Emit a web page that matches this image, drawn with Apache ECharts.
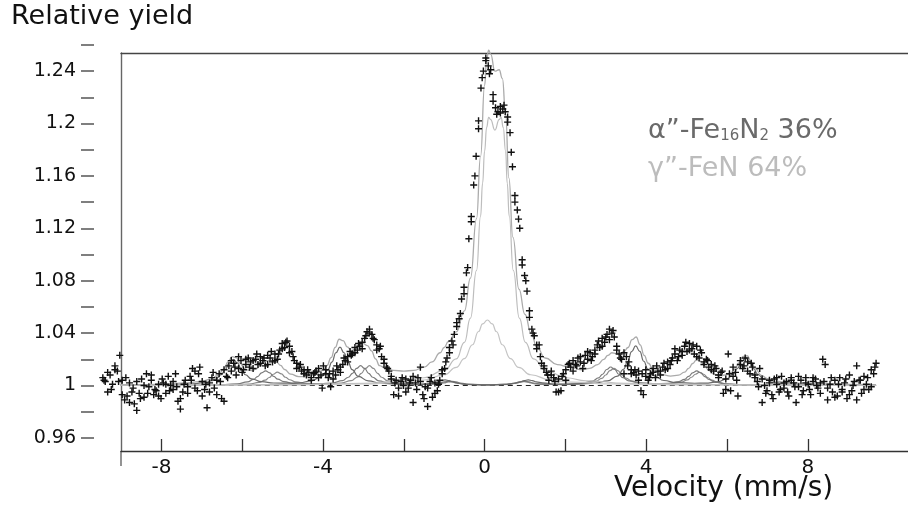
<!DOCTYPE html>
<html><head><meta charset="utf-8">
<script src="https://cdn.jsdelivr.net/npm/echarts@6/dist/echarts.min.js"></script>
<style>html,body{margin:0;padding:0;background:#fff}#c{width:908px;height:517px}</style>
</head><body><div id="c"></div><script>
// ---- data ----
// spectrum channels, set A
const velStartA = -9.45;   // mm/s
const velStepA = 0.06;
const relYieldA = [
1.006,1.003,0.995,1.008,1.001,1.012,1.011,1.023,1.004,0.989,
0.992,1.002,0.995,0.986,0.981,0.994,1.005,0.991,1.009,0.999,
1.004,0.993,0.996,1.001,0.990,1.002,0.994,1.007,1.000,0.997,
1.009,0.988,0.982,0.995,1.004,0.999,1.007,1.013,1.011,0.996,
1.014,1.003,0.997,0.983,1.002,1.006,0.998,1.004,1.009,0.990,
0.988,1.007,1.015,1.011,1.017,1.008,1.013,1.019,1.012,1.016,
1.021,1.018,1.013,1.020,1.016,1.022,1.019,1.015,1.023,1.021,
1.018,1.024,1.020,1.027,1.032,1.029,1.034,1.030,1.026,1.019,
1.017,1.014,1.011,1.012,1.008,1.010,1.006,1.009,1.011,1.013,
1.008,1.015,1.009,1.006,0.999,1.011,1.008,1.012,1.014,1.016,
1.019,1.022,1.026,1.024,1.029,1.027,1.030,1.033,1.036,1.041,
1.043,1.039,1.035,1.031,1.028,1.022,1.017,1.014,1.011,1.007,
0.993,1.004,0.992,1.003,1.000,1.005,0.998,1.004,0.987,1.002,
1.006,1.014,0.993,0.999,0.984,1.003,0.991,1.002,0.996,1.004,
1.009,1.013,1.021,1.025,1.034,1.039,1.045,1.051,1.066,1.070,
1.086,1.112,1.129,1.153,1.175,1.196,1.227,1.240,1.248,1.244,
1.241,1.222,1.212,1.209,1.213,1.211,1.209,1.205,1.193,1.167,
1.145,1.134,1.120,1.096,1.084,1.072,1.057,1.043,1.038,1.028,
1.031,1.017,1.013,1.010,1.004,1.008,1.006,0.995,1.005,0.996,
1.009,1.012,1.016,1.014,1.019,1.016,1.021,1.018,1.013,1.023,
1.020,1.025,1.022,1.027,1.031,1.029,1.036,1.033,1.039,1.043,
1.040,1.037,1.030,1.024,1.020,1.009,1.022,1.018,1.012,1.010,
1.008,1.011,0.996,0.993,1.007,1.004,1.009,1.013,1.006,1.011,
1.008,1.014,1.012,1.018,1.016,1.021,1.024,1.019,1.027,1.023,
1.030,1.026,1.032,1.028,1.024,1.030,1.021,1.025,1.018,1.020,
1.014,1.016,1.011,1.013,1.008,1.010,0.994,1.005,1.024,0.996,
1.007,1.010,0.992,1.016,1.013,1.021,1.018,1.009,1.014,1.006,
1.003,1.013,0.987,1.000,0.996,1.004,0.993,1.005,1.001,0.995,
1.007,0.998,1.003,0.992,1.006,1.002,0.987,0.999,1.004,0.996,
1.006,1.001,0.993,1.003,1.005,0.998,1.002,1.020,1.016,0.989,
1.001,0.995,1.004,0.992,1.006,0.997,1.002,0.990,1.008,0.996,
1.003,1.015,1.004,0.994,1.007,1.001,0.997,1.012,1.009,1.017
];
// spectrum channels, set B
const velStartB = -9.42;
const velStepB = 0.09;
const relYieldB = [
1.004,1.010,0.997,1.015,1.003,0.993,1.006,0.987,0.998,1.003,
0.990,1.000,0.994,1.008,0.997,0.992,1.005,1.001,0.996,1.003,
0.999,0.990,1.001,0.994,1.004,0.998,1.009,0.992,1.001,0.995,
1.010,0.993,1.003,1.012,1.006,1.019,1.014,1.022,1.010,1.020,
1.014,1.019,1.024,1.017,1.021,1.016,1.026,1.019,1.024,1.028,
1.033,1.025,1.022,1.013,1.016,1.009,1.012,1.004,1.010,1.006,
0.998,1.012,1.009,1.005,1.015,1.010,1.021,1.018,1.023,1.025,
1.032,1.028,1.038,1.040,1.036,1.027,1.030,1.020,1.013,1.005,
1.002,0.998,1.006,0.995,1.002,1.007,0.997,1.003,0.990,0.998,
1.006,0.994,1.001,1.012,1.018,1.029,1.031,1.048,1.055,1.075,
1.090,1.125,1.160,1.202,1.235,1.250,1.238,1.217,1.207,1.208,
1.214,1.201,1.178,1.140,1.127,1.092,1.080,1.052,1.040,1.031,
1.022,1.015,1.008,1.011,1.003,0.995,1.007,1.004,1.017,1.011,
1.015,1.022,1.017,1.026,1.019,1.024,1.034,1.030,1.037,1.035,
1.042,1.027,1.021,1.025,1.015,1.009,1.012,1.004,1.009,1.012,
1.006,1.010,1.015,1.011,1.017,1.013,1.019,1.028,1.022,1.026,
1.033,1.027,1.031,1.022,1.027,1.016,1.019,1.012,1.015,1.006,
1.011,0.997,1.009,1.014,1.004,1.019,1.015,1.011,1.017,1.008,
0.999,1.005,0.994,1.002,0.990,1.006,0.997,1.002,0.995,1.004,
0.999,1.007,0.993,1.002,0.997,1.006,1.000,0.994,1.003,0.998,
1.006,0.991,1.001,0.995,1.005,0.993,1.000,0.989,1.004,0.997,
1.006,0.999,1.014
];
const totalFit = [[-9.45,1.0004],[-8.5,1.0006],[-7.8,1.0012],[-7.3,1.0022],[-7.0,1.0032],[-6.8,1.0046],[-6.6,1.0077],[-6.45,1.0127],[-6.35,1.018],[-6.25,1.0221],[-6.15,1.0213],[-6.05,1.0169],[-5.95,1.0131],[-5.85,1.0118],[-5.75,1.0114],[-5.65,1.0127],[-5.55,1.0154],[-5.45,1.0182],[-5.35,1.0191],[-5.25,1.0186],[-5.15,1.0179],[-5.05,1.0153],[-4.95,1.0122],[-4.8,1.0087],[-4.6,1.0068],[-4.4,1.0068],[-4.2,1.0082],[-4.0,1.0117],[-3.9,1.0153],[-3.8,1.0213],[-3.7,1.029],[-3.6,1.0353],[-3.5,1.0342],[-3.4,1.0295],[-3.3,1.0267],[-3.2,1.028],[-3.1,1.0308],[-3.0,1.0319],[-2.9,1.0304],[-2.8,1.0264],[-2.7,1.0203],[-2.6,1.0151],[-2.45,1.013],[-2.25,1.0115],[-2.0,1.011],[-1.75,1.0115],[-1.5,1.014],[-1.3,1.018],[-1.1,1.025],[-1.0,1.029],[-0.9,1.0334],[-0.7,1.0409],[-0.5,1.0569],[-0.35,1.082],[-0.2,1.1274],[-0.1,1.1749],[0.0,1.2292],[0.05,1.2484],[0.1,1.2559],[0.15,1.253],[0.255,1.2399],[0.36,1.241],[0.44,1.2343],[0.52,1.2073],[0.6,1.1585],[0.7,1.1132],[0.85,1.0736],[1.0,1.0542],[1.15,1.0398],[1.3,1.0287],[1.5,1.021],[1.8,1.016],[2.1,1.014],[2.4,1.012],[2.6,1.013],[2.8,1.016],[2.95,1.020],[3.05,1.023],[3.15,1.025],[3.25,1.0245],[3.35,1.024],[3.45,1.026],[3.55,1.029],[3.65,1.035],[3.75,1.037],[3.85,1.031],[3.95,1.023],[4.05,1.017],[4.2,1.011],[4.4,1.0083],[4.6,1.0072],[4.8,1.0079],[4.95,1.0102],[5.05,1.0131],[5.15,1.0168],[5.25,1.0198],[5.35,1.0185],[5.45,1.0148],[5.55,1.0114],[5.7,1.0084],[5.85,1.0075],[6.0,1.0083],[6.1,1.0099],[6.2,1.0129],[6.3,1.0175],[6.4,1.0223],[6.5,1.0227],[6.6,1.0181],[6.7,1.0128],[6.85,1.0078],[7.0,1.0052],[7.2,1.0034],[7.5,1.0023],[8.0,1.0014],[9.0,1.0009],[9.69,1.0007]];
const gammaFeN = [[-9.45,1.0002],[-5,1.0006],[-3,1.0017],[-2,1.0036],[-1.5,1.0059],[-1.0,1.0116],[-0.7,1.0203],[-0.5,1.0329],[-0.35,1.0514],[-0.2,1.0878],[-0.1,1.1291],[-0.05,1.1544],[0.0,1.1789],[0.05,1.197],[0.1,1.2047],[0.15,1.203],[0.255,1.195],[0.36,1.203],[0.41,1.2047],[0.46,1.197],[0.52,1.1789],[0.56,1.1544],[0.61,1.1291],[0.71,1.0878],[0.86,1.0514],[1.01,1.0329],[1.21,1.0203],[1.51,1.0116],[2.01,1.0059],[2.51,1.0036],[3.5,1.0017],[5.5,1.0007],[9.69,1.0002]];
const singlet = [[-9.45,1.0001],[-5,1.0004],[-3,1.0012],[-2,1.0025],[-1.5,1.0042],[-1.0,1.0082],[-0.7,1.0138],[-0.5,1.0205],[-0.3,1.0311],[-0.15,1.0412],[-0.05,1.047],[0.07,1.05],[0.19,1.047],[0.29,1.0412],[0.44,1.0311],[0.64,1.0205],[0.84,1.0138],[1.14,1.0082],[1.64,1.0042],[2.14,1.0025],[3.14,1.0012],[5.14,1.0004],[9.69,1.0001]];
const sextet1 = [[-9.45,1],[-7.7,1.0005],[-7.22,1.0012],[-6.92,1.0023],[-6.67,1.0047],[-6.52,1.0082],[-6.42,1.0122],[-6.32,1.0172],[-6.22,1.020],[-6.12,1.0172],[-6.02,1.0122],[-5.92,1.0082],[-5.77,1.0051],[-5.52,1.0029],[-5.22,1.0019],[-4.8,1.0018],[-4.58,1.0021],[-4.28,1.0036],[-4.03,1.007],[-3.88,1.012],[-3.78,1.0178],[-3.68,1.025],[-3.58,1.0293],[-3.48,1.025],[-3.38,1.0178],[-3.28,1.0121],[-3.13,1.007],[-2.88,1.0035],[-2.58,1.0018],[-2.2,1.0011],[-1.7,1.0009],[-1.43,1.0013],[-1.28,1.0019],[-1.18,1.0027],[-1.08,1.0037],[-0.98,1.0043],[-0.88,1.0037],[-0.78,1.0027],[-0.63,1.0017],[-0.4,1.0008],[0.05,1.0005],[0.5,1.0008],[0.73,1.0017],[0.88,1.0027],[0.98,1.0037],[1.08,1.0043],[1.18,1.0037],[1.28,1.0027],[1.43,1.002],[1.78,1.001],[2.3,1.0011],[2.74,1.0018],[3.04,1.0035],[3.29,1.0072],[3.44,1.0124],[3.54,1.0183],[3.64,1.0259],[3.74,1.0302],[3.84,1.0261],[3.94,1.0185],[4.04,1.0126],[4.19,1.0075],[4.44,1.0038],[4.74,1.0022],[5.2,1.0017],[5.46,1.0018],[5.76,1.0027],[6.01,1.0053],[6.16,1.0089],[6.26,1.0131],[6.36,1.0183],[6.46,1.0212],[6.56,1.0183],[6.66,1.0128],[6.76,1.0086],[6.91,1.005],[7.16,1.0024],[7.46,1.0012],[7.96,1.0005],[9.69,1]];
const sextet2 = [[-9.45,1],[-7.0,1.0003],[-6.42,1.0007],[-6.12,1.0013],[-5.87,1.0027],[-5.72,1.0046],[-5.62,1.0068],[-5.52,1.0096],[-5.42,1.0111],[-5.32,1.0096],[-5.22,1.0069],[-5.12,1.0049],[-4.97,1.0029],[-4.72,1.0015],[-4.3,1.0011],[-4.07,1.0013],[-3.77,1.0019],[-3.52,1.0037],[-3.37,1.0063],[-3.27,1.0093],[-3.17,1.013],[-3.07,1.0151],[-2.97,1.013],[-2.87,1.0093],[-2.77,1.0063],[-2.62,1.0036],[-2.37,1.0018],[-2.07,1.001],[-1.6,1.0007],[-1.35,1.001],[-1.2,1.0014],[-1.1,1.002],[-1.0,1.0028],[-0.9,1.0031],[-0.8,1.0027],[-0.7,1.0019],[-0.5,1.0008],[0.05,1.0004],[0.6,1.0008],[0.8,1.0019],[0.9,1.0027],[1.0,1.0031],[1.1,1.0027],[1.2,1.0019],[1.4,1.0012],[1.9,1.0008],[2.42,1.0017],[2.67,1.0034],[2.82,1.0058],[2.92,1.0086],[3.02,1.0122],[3.12,1.0141],[3.22,1.0122],[3.32,1.0086],[3.42,1.006],[3.57,1.0035],[3.82,1.002],[4.2,1.0013],[4.55,1.0016],[4.8,1.0029],[4.95,1.0047],[5.05,1.0069],[5.15,1.0096],[5.25,1.0111],[5.35,1.0096],[5.45,1.0068],[5.55,1.0046],[5.7,1.0026],[5.95,1.0013],[6.25,1.0007],[6.85,1.0003],[9.69,1]];
const sextet3 = [[-9.45,1],[-6.7,1.0002],[-6.13,1.0006],[-5.83,1.0011],[-5.58,1.0024],[-5.43,1.0041],[-5.33,1.0061],[-5.23,1.0086],[-5.13,1.0102],[-5.03,1.0088],[-4.93,1.0063],[-4.83,1.0044],[-4.68,1.0027],[-4.43,1.0016],[-4.0,1.0012],[-3.85,1.0013],[-3.55,1.0019],[-3.3,1.0037],[-3.15,1.0063],[-3.05,1.0093],[-2.95,1.013],[-2.85,1.0151],[-2.75,1.013],[-2.65,1.0093],[-2.55,1.0063],[-2.4,1.0036],[-2.15,1.0018],[-1.85,1.0011],[-1.5,1.0008],[-1.25,1.001],[-1.1,1.0014],[-1.0,1.002],[-0.9,1.0027],[-0.8,1.0031],[-0.7,1.0027],[-0.6,1.0019],[-0.35,1.0008],[0.1,1.0005],[0.5,1.0008],[0.65,1.0013],[0.75,1.0019],[0.85,1.0026],[0.95,1.0031],[1.05,1.0027],[1.15,1.0019],[1.25,1.0013],[1.4,1.0008],[1.95,1.0007],[2.5,1.0016],[2.75,1.0032],[2.9,1.0054],[3.0,1.008],[3.1,1.0113],[3.2,1.0131],[3.3,1.0113],[3.4,1.008],[3.5,1.0056],[3.65,1.0033],[3.9,1.0018],[4.25,1.0013],[4.62,1.0015],[4.87,1.0026],[5.02,1.0043],[5.12,1.0063],[5.22,1.0086],[5.32,1.0101],[5.42,1.0086],[5.52,1.0061],[5.62,1.0041],[5.77,1.0024],[6.02,1.0011],[6.32,1.0006],[6.9,1.0002],[9.69,1]];
const baseline = [[-9.45,1],[9.69,1]];
const xTicks = [-8,-6,-4,-2,0,2,4,6,8];
const xLabels = [-8,-4,0,4,8];
const yTicks = [0.96,0.98,1.0,1.02,1.04,1.06,1.08,1.10,1.12,1.14,1.16,1.18,1.20,1.22,1.24,1.26];
const yLabels = [0.96,1.0,1.04,1.08,1.12,1.16,1.2,1.24];

// ---- chart ----
const FONT = 'DejaVu Sans';
const pointsA = relYieldA.map((y, i) => [+(velStartA + i * velStepA).toFixed(2), y]);
const pointsB = relYieldB.map((y, i) => [+(velStartB + i * velStepB).toFixed(2), y]);
const points = pointsA.concat(pointsB);
function curve(data, color, width, z) {
  return { type: 'line', data, xAxisIndex: 0, yAxisIndex: 0, symbol: 'none', showSymbol: false,
    smooth: 0.5, smoothMonotone: 'x', clip: false, silent: true, z,
    lineStyle: { color, width } };
}
const chart = echarts.init(document.getElementById('c'), null, { renderer: 'canvas' });
chart.setOption({
  animation: false,
  backgroundColor: '#fff',
  grid: [
    { left: 121, top: 53, right: 0, bottom: 66 },
    { left: 94, width: 1, top: 44.9, bottom: 66 }
  ],
  xAxis: [
    { type: 'value', gridIndex: 0, min: -9, max: 10.48, position: 'bottom',
      axisLine: { show: true, onZero: false, lineStyle: { color: '#333', width: 1.3 } },
      axisTick: { show: true, inside: true, length: 12, customValues: xTicks, lineStyle: { color: '#333', width: 1.3 } },
      axisLabel: { show: true, customValues: xLabels, margin: 7, fontSize: 20, fontFamily: FONT, color: '#111' },
      splitLine: { show: false } },
    { type: 'value', gridIndex: 0, min: -9, max: 10.48, position: 'top',
      axisLine: { show: true, onZero: false, lineStyle: { color: '#444', width: 1.3 } },
      axisTick: { show: false }, axisLabel: { show: false }, splitLine: { show: false } },
    { type: 'value', gridIndex: 1, show: false, min: 0, max: 1 }
  ],
  yAxis: [
    { type: 'value', gridIndex: 0, min: 0.95, max: 1.2538,
      axisLine: { show: true, onZero: false, lineStyle: { color: '#666', width: 1.4 } },
      axisTick: { show: false }, axisLabel: { show: false }, splitLine: { show: false } },
    { type: 'value', gridIndex: 1, min: 0.95, max: 1.26,
      axisLine: { show: false },
      axisTick: { show: true, inside: false, length: 13, customValues: yTicks, lineStyle: { color: '#555', width: 1.5 } },
      axisLabel: { show: true, customValues: yLabels, margin: 18, fontSize: 19, fontFamily: FONT, color: '#111',
        formatter: v => String(+(+v).toFixed(2)) },
      splitLine: { show: false } }
  ],
  graphic: [
    { type: 'line', shape: { x1: 121, y1: 451, x2: 121, y2: 466 }, style: { stroke: '#666', lineWidth: 1.4 }, silent: true },
    { type: 'text', left: 11, top: 3, style: { text: 'Relative yield', font: '27px "DejaVu Sans"', fill: '#111' } },
    { type: 'text', left: 614, top: 475, style: { text: 'Velocity (mm/s)', font: '28px "DejaVu Sans"', fill: '#111' } },
    { type: 'text', left: 648, top: 117, style: {
        text: '{a|α”-Fe}{s|16}{a|N}{s|2}{a| 36%}',
        rich: {
          a: { fontSize: 27, fontFamily: FONT, fill: '#6a6a6a', lineHeight: 31, verticalAlign: 'bottom' },
          s: { fontSize: 15, fontFamily: FONT, fill: '#6a6a6a', lineHeight: 16, verticalAlign: 'bottom' }
        } } },
    { type: 'text', left: 648, top: 155, style: {
        text: 'γ”-FeN 64%', font: '27px "DejaVu Sans"', fill: '#bcbcbc' } }
  ],
  series: [
    { type: 'line', data: baseline, symbol: 'none', clip: false, silent: true, z: 2,
      lineStyle: { color: '#222', width: 1, type: [5, 4] } },
    curve(sextet3, '#8a8a8a', 1.2, 3),
    curve(sextet2, '#7a7a7a', 1.2, 3),
    curve(sextet1, '#6a6a6a', 1.2, 3),
    curve(singlet, '#c4c4c4', 1.2, 3),
    curve(gammaFeN, '#bdbdbd', 1.2, 3),
    curve(totalFit, '#ababab', 1.3, 4),
    { type: 'scatter', data: points, xAxisIndex: 0, yAxisIndex: 0, clip: false, silent: true, z: 6,
      symbol: 'path://M4,0H6V4H10V6H6V10H4V6H0V4H4Z', symbolSize: 7,
      itemStyle: { color: '#111', opacity: 1 } }
  ]
});
</script></body></html>
